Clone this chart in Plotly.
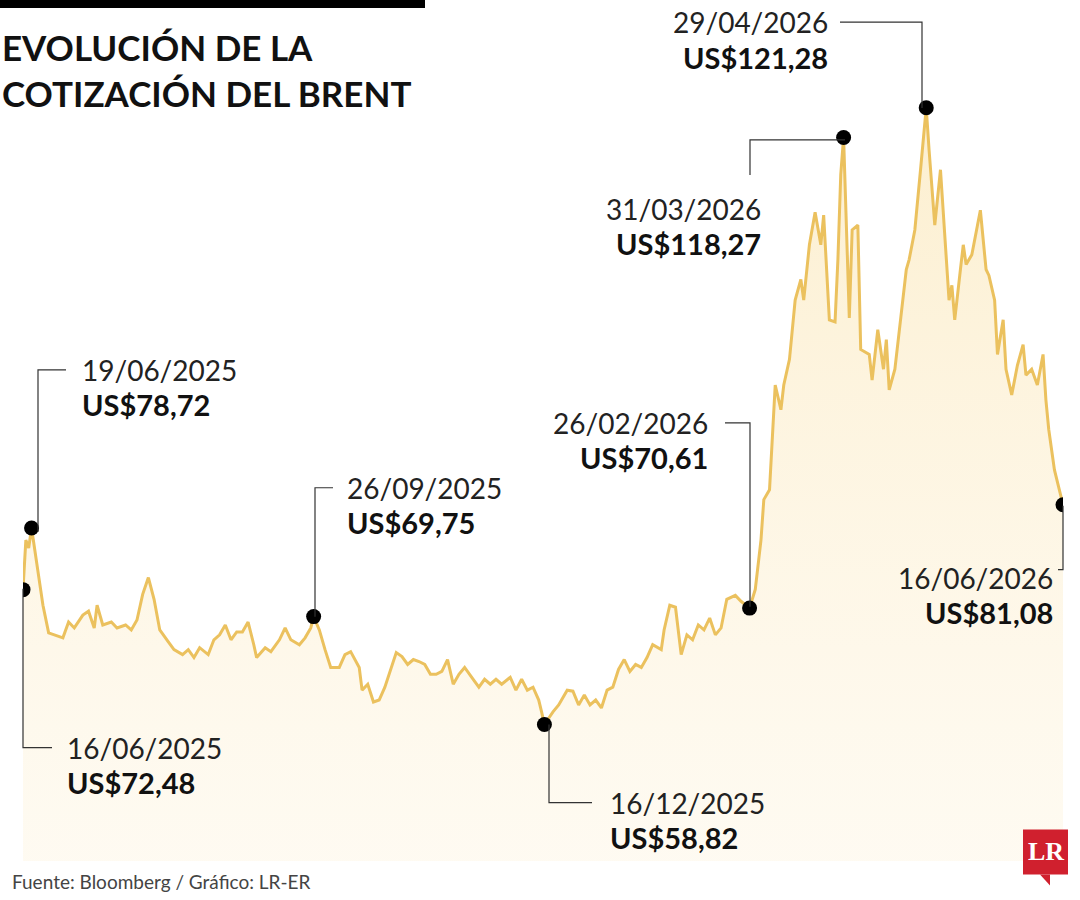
import pandas as pd
import plotly.graph_objects as go

# days since 16/06/2025 and Brent price (US$)
dias = [0, 1, 2, 3, 7, 9, 11, 14, 16, 18, 21, 23, 25, 26, 28, 31, 33, 36, 38, 40,
        42, 44, 46, 48, 51, 53, 56, 58, 60, 62, 65, 67, 69, 71, 73, 75, 77, 79, 81, 82,
        85, 87, 90, 92, 94, 97, 99, 101, 102, 104, 106, 108, 111, 113, 115, 118, 119, 121, 123, 125,
        127, 130, 131, 133, 135, 137, 139, 141, 143, 145, 147, 149, 151, 153, 155, 158, 160, 162, 164, 166,
        168, 171, 173, 175, 177, 179, 181, 182, 183, 186, 188, 191, 193, 195, 197, 199, 201, 203, 205, 207,
        209, 211, 213, 215, 217, 219, 221, 224, 225, 227, 229, 231, 233, 235, 237, 239, 241, 243, 245, 247,
        250, 252, 254, 255, 257, 259, 260, 262, 264, 266, 267, 269, 271, 273, 274, 276, 278, 280, 281, 283,
        285, 286, 287, 288, 290, 291, 293, 294, 297, 298, 300, 302, 303, 304, 306, 308, 310, 311, 313, 315,
        317, 318, 320, 322, 323, 325, 326, 327, 329, 330, 331, 333, 335, 336, 338, 339, 341, 342, 344, 345,
        347, 349, 351, 352, 354, 356, 358, 359, 360, 362, 365]
precio = [72.48, 77.5, 76.7, 78.72, 70.9, 68.1, 67.9, 67.6, 69.2, 68.6, 69.9, 70.3, 68.6, 70.9, 68.9, 69.2, 68.6, 68.9, 68.4, 69.4,
          72.0, 73.7, 71.5, 68.4, 67.2, 66.4, 65.9, 66.4, 65.6, 66.6, 65.9, 67.4, 67.9, 68.9, 67.4, 68.2, 68.2, 69.2, 66.9, 65.6,
          66.6, 66.2, 67.4, 68.6, 67.4, 66.9, 67.6, 68.6, 69.75, 68.4, 66.4, 64.6, 64.6, 65.9, 66.2, 64.6, 62.3, 62.9, 61.1, 61.3,
          62.6, 65.4, 66.1, 65.7, 64.9, 65.4, 65.2, 64.9, 63.9, 63.9, 64.2, 65.4, 62.9, 63.9, 64.6, 63.4, 62.6, 63.4, 62.9, 63.4,
          62.9, 63.6, 62.3, 63.4, 62.3, 62.6, 61.3, 60.1, 58.82, 60.1, 60.8, 62.3, 62.2, 60.8, 61.8, 60.8, 61.3, 60.5, 62.3, 62.6,
          64.4, 65.4, 64.2, 64.9, 64.6, 65.6, 66.9, 66.4, 68.4, 70.9, 70.7, 65.9, 67.9, 67.4, 68.9, 68.4, 69.6, 67.9, 68.6, 71.5,
          71.9, 71.3, 70.9, 70.61, 72.5, 77.5, 81.6, 82.6, 93.2, 90.7, 93.2, 95.8, 101.8, 103.9, 101.8, 107.4, 110.7, 107.4, 110.4, 99.8,
          99.6, 105.9, 114.5, 118.27, 100.0, 108.9, 109.4, 96.8, 96.3, 93.7, 98.8, 94.8, 97.8, 92.7, 94.8, 99.8, 104.9, 105.9, 108.9, 115.0,
          121.28, 117.0, 109.4, 115.0, 110.4, 101.8, 103.3, 99.8, 104.9, 107.4, 105.4, 106.4, 109.4, 110.9, 104.9, 104.3, 101.8, 96.3, 99.8, 94.8,
          92.2, 95.2, 97.3, 94.2, 94.8, 93.2, 96.3, 91.7, 88.7, 84.6, 81.08]

inicio = pd.Timestamp("2025-06-16")
fechas = [inicio + pd.Timedelta(days=d) for d in dias]

# highlighted points: date, value, label
destacados = [
    ("2025-06-16", 72.48, "16/06/2025", "US$72,48"),
    ("2025-06-19", 78.72, "19/06/2025", "US$78,72"),
    ("2025-09-26", 69.75, "26/09/2025", "US$69,75"),
    ("2025-12-16", 58.82, "16/12/2025", "US$58,82"),
    ("2026-02-26", 70.61, "26/02/2026", "US$70,61"),
    ("2026-03-31", 118.27, "31/03/2026", "US$118,27"),
    ("2026-04-29", 121.28, "29/04/2026", "US$121,28"),
    ("2026-06-16", 81.08, "16/06/2026", "US$81,08"),
]

W, H = 1080, 900
L, R, T, B = 23, 1063, 71, 861.5


def px(x):
    return (x - L) / (R - L)


def py(y):
    return (B - y) / (B - T)


fig = go.Figure()

fig.add_trace(go.Scatter(
    x=fechas, y=precio, mode="lines",
    line=dict(color="#EBC15E", width=3),
    fill="tozeroy",
    fillgradient=dict(type="vertical",
                      colorscale=[[0, "rgba(255,252,245,0.3)"], [1, "rgba(252,238,205,0.95)"]]),
    hoverinfo="skip",
))

fig.add_trace(go.Scatter(
    x=[pd.Timestamp(d[0]) for d in destacados], y=[d[1] for d in destacados],
    mode="markers", marker=dict(color="black", size=15), hoverinfo="skip",
))

# leader lines (pixel paths) and label positions
lineas = [
    [(23, 589), (23, 748), (52, 748)],
    [(38, 532), (38, 370), (66, 370)],
    [(315, 617), (315, 488), (333, 488)],
    [(549, 725), (549, 803), (592, 803)],
    [(750, 607), (750, 423), (725, 423)],
    [(845, 140), (750, 140), (750, 175)],
    [(922, 108), (922, 22), (840, 22)],
    [(1063, 506), (1063, 570), (1058, 570)],
]
etiquetas = [
    (65, 748, "left"), (80, 370, "left"), (345, 488, "left"), (608, 803, "left"),
    (710, 423, "right"), (763, 209, "right"), (830, 22, "right"), (1055, 578, "right"),
]

for pts in lineas:
    path = "M " + " L ".join(f"{px(x)},{py(y)}" for x, y in pts)
    fig.add_shape(type="path", path=path, xref="paper", yref="paper",
                  line=dict(color="#333", width=1.2))

for (xx, yy, al), d in zip(etiquetas, destacados):
    fig.add_annotation(x=px(xx), y=py(yy), xref="paper", yref="paper",
                       text=d[2], showarrow=False, xanchor=al, yanchor="middle",
                       font=dict(family="Lato", size=28, color="#222"))
    fig.add_annotation(x=px(xx), y=py(yy + 35), xref="paper", yref="paper",
                       text="<b>" + d[3] + "</b>", showarrow=False, xanchor=al, yanchor="middle",
                       font=dict(family="Lato", size=29, color="#111"))

# title block
fig.add_shape(type="rect", xref="paper", yref="paper", x0=px(0), x1=px(425),
              y0=py(8), y1=py(0), fillcolor="black", line_width=0)
fig.add_annotation(x=px(0), y=py(24), xref="paper", yref="paper",
                   text="<b>EVOLUCIÓN DE LA<br>COTIZACIÓN DEL BRENT</b>", showarrow=False,
                   xanchor="left", yanchor="top", align="left",
                   font=dict(family="Lato", size=35, color="#111"))
fig.add_annotation(x=px(10), y=py(882), xref="paper", yref="paper",
                   text="Fuente: Bloomberg / Gráfico: LR-ER", showarrow=False,
                   xanchor="left", yanchor="middle",
                   font=dict(family="Lato", size=19, color="#444"))

# logo
fig.add_shape(type="rect", xref="paper", yref="paper", x0=px(1023), x1=px(1068),
              y0=py(875), y1=py(830), fillcolor="#D0202E", line_width=0)
fig.add_shape(type="path", xref="paper", yref="paper",
              path=f"M {px(1040)},{py(875)} L {px(1050)},{py(886)} L {px(1050)},{py(875)} Z",
              fillcolor="#D0202E", line_width=0)
fig.add_annotation(x=px(1045.5), y=py(852), xref="paper", yref="paper",
                   text="<b>LR</b>", showarrow=False, xanchor="center", yanchor="middle",
                   font=dict(family="Liberation Serif", size=26, color="white"))

fig.update_xaxes(visible=False, range=[inicio, inicio + pd.Timedelta(days=365)])
fig.update_yaxes(visible=False, range=[45, 125])
fig.update_layout(
    width=W, height=H, showlegend=False,
    margin=dict(l=L, r=W - R, t=T, b=H - B),
    paper_bgcolor="white", plot_bgcolor="white",
)

fig.write_html("out.html", config={"displayModeBar": False},
               post_script="document.body.style.margin='0';document.body.style.overflow='hidden';")
